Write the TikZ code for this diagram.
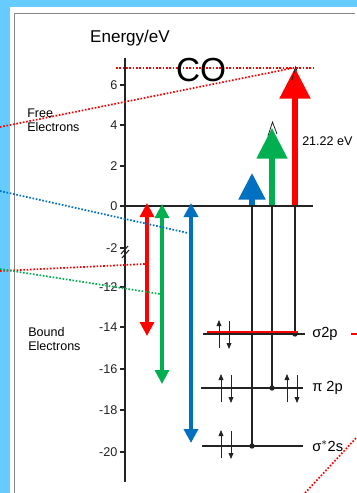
\documentclass[tikz,border=0pt]{standalone}
\usepackage{fontspec}
\setmainfont{Liberation Sans}
\usetikzlibrary{arrows.meta,calc,positioning}

\begin{document}
\begin{tikzpicture}[x=0.75pt, y=-0.75pt]
		% Definición de colores
		\definecolor{fondo}{RGB}{102, 204, 255} % Azul claro del marco
		\definecolor{rojo}{RGB}{255, 0, 0}
		\definecolor{verde}{RGB}{0, 176, 80}
		\definecolor{azul}{RGB}{0, 112, 192}
		\definecolor{borde}{RGB}{135, 135, 135}
		\definecolor{eje}{RGB}{35, 35, 35}
		
		% --- Estilos ---
		\tikzset{
			punteado/.style={line width=1.3pt, dash pattern=on 1.2pt off 1.3pt},
			flechagrande/.style={line width=4pt, -{Triangle[length=23pt, width=22.5pt]}},
			flechadoble/.style={line width=2.4pt, {Triangle[length=10.5pt, width=10.5pt]}-{Triangle[length=10.5pt, width=10.5pt]}},
			espin/.style={line width=0.6pt, eje, -{Triangle[length=4.5pt, width=3.6pt]}},
			nivel/.style={line width=0.8pt, eje},
			marca/.style={line width=0.8pt, eje},
			numero/.style={font=\fontsize{9.5}{11}\selectfont, left, inner sep=1.5pt},
			texto/.style={font=\fontsize{9.4}{10.5}\selectfont, align=left, inner sep=0pt},
			orbital/.style={font=\fontsize{11}{13}\selectfont, anchor=west, inner sep=0pt}
		}
		
		% --- Fondo y panel ---
		\fill[fondo] (0,0) rectangle (357,493);
		\useasboundingbox (0,0) rectangle (357,493);
		\fill[white] (10,7) rectangle (357,493);
		\draw[borde, line width=0.7pt] (14,493) -- (14,13) -- (355,13);
		
		% --- Coordenadas de los niveles (puntos negros) ---
		\coordinate (S2p) at (295,334); % sigma 2p
		\coordinate (P2p) at (272,388); % pi 2p
		\coordinate (S2s) at (252,446); % sigma* 2s
		
		% --- Líneas verticales desde el nivel cero ---
		\draw[nivel] (S2p |- 0,206) -- (S2p);
		\draw[nivel] (P2p |- 0,206) -- (P2p);
		\draw[nivel] (S2s |- 0,206) -- (S2s);
		\fill[eje] (S2p) circle (2pt);
		\fill[eje] (P2p) circle (2pt);
		\fill[eje] (S2s) circle (2pt);
		
		% --- Niveles de energía ---
		\draw[nivel] (203,334) -- (305,334);
		\draw[rojo, line width=1.6pt] (207,332) -- (298,332);
		\draw[nivel] (201,388) -- (303,388);
		\draw[nivel] (202,446) -- (303,446);
		
		% Espines (arriba y abajo)
		\draw[espin] (219,348) -- (219,320);
		\draw[espin] (229,321) -- (229,349);
		\draw[espin] (221,402) -- (221,374);
		\draw[espin] (231,375) -- (231,403);
		\draw[espin] (287,402) -- (287,374);
		\draw[espin] (297,375) -- (297,403);
		\draw[espin] (221,458) -- (221,430);
		\draw[espin] (231,431) -- (231,459);
		
		% Nombres de los orbitales
		\node[orbital] (ls2p) at (312,334) {σ2p};
		\node[orbital] (lp2p) at (312,388) {π 2p};
		\node[orbital] (ls2s) at (312,446) {σ$^{*}$2s};
		\draw[rojo, line width=1.4pt] (351,334) -- (357,334);
		
		% --- Eje de energía ---
		\draw[eje, line width=1.3pt] (125,58) -- (125,482);
		\draw[eje, line width=0.8pt] (121,254) -- (128,246) (122,258) -- (129,250);
		\draw[marca] (125,85) -- (120,85) node[numero] {6};
		\draw[marca] (125,125) -- (120,125) node[numero] {4};
		\draw[marca] (125,166) -- (120,166) node[numero] {2};
		\draw[marca] (125,206) -- (120,206) node[numero] {0};
		\draw[marca] (125,248) -- (120,248) node[numero] {-2};
		\draw[marca] (125,287) -- (120,287) node[numero] {-12};
		\draw[marca] (125,327) -- (120,327) node[numero] {-14};
		\draw[marca] (125,369) -- (120,369) node[numero] {-16};
		\draw[marca] (125,410) -- (120,410) node[numero] {-18};
		\draw[marca] (125,452) -- (120,452) node[numero] {-20};
		
		% --- Flechas de la energía del fotón ---
		\draw[eje, line width=0.6pt] (268,136) -- (272.5,122) -- (277,134);
		\draw[flechagrande, rojo] (295,206) -- (295,68);
		\draw[flechagrande, verde, line width=3.8pt] (272,206) -- (272,128);
		\draw[flechagrande, azul, -{Triangle[length=20pt, width=19.5pt]}] (252,206) -- (252,173);
		\draw[eje, line width=0.6pt] (292,80) -- (295.5,67) -- (297,71);
		
		% --- Línea del cero ---
		\draw[eje, line width=1.5pt] (125,206) -- (313,206);
		
		% --- Flechas dobles (energía de enlace) ---
		\draw[flechadoble, rojo] (147,203) -- (147,336);
		\draw[flechadoble, verde] (162,204) -- (162,384);
		\draw[flechadoble, azul, line width=3pt] (191,203) -- (191,443);
		
		% --- Líneas punteadas ---
		\draw[punteado, rojo] (116,68) -- (313,68);
		\draw[punteado, rojo] (0,127) -- (293,68);
		\draw[punteado, azul] (0,191) -- (188,233);
		\draw[punteado, rojo] (0,271) -- (145,264);
		\draw[punteado, verde] (0,269) -- (160,294);
		\draw[punteado, rojo] (305,493) -- (357,437);
		
		% --- Textos ---
		\node[font=\fontsize{12.8}{14}\selectfont] (titulo) at (130,38) {Energy/eV};
		\node[font=\fontsize{25}{28}\selectfont, inner sep=0pt] (molecula) at (201,70) {CO};
		\node[texto, anchor=west] (libres) at (27,120) {Free\\Electrons};
		\node[texto, anchor=west] (ligados) at (28,339) {Bound\\Electrons};
		\node[texto, anchor=west] (foton) at (302,141) {21.22 eV};
		
	\end{tikzpicture}
\end{document}
